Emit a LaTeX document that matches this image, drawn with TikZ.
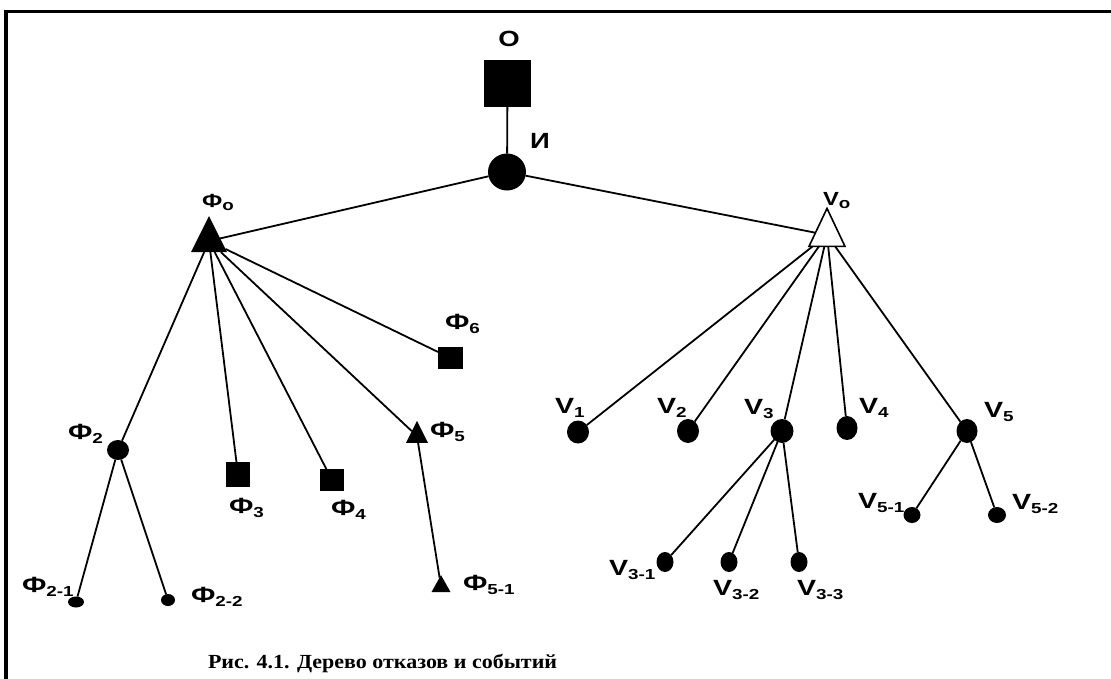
\documentclass[tikz,border=0pt]{standalone}
\usepackage{fontspec}
\setmainfont{Liberation Sans}
\newfontfamily\capfont{Liberation Serif}
\usetikzlibrary{shapes.geometric}
\newcommand{\lb}[2]{\scalebox{1.3}[1]{\bfseries\fontsize{22}{22}\selectfont #1\raisebox{-4pt}{\fontsize{14.5}{14.5}\selectfont #2}}}
\newcommand{\lbs}[2]{\scalebox{1.25}[1]{\bfseries\fontsize{19}{19}\selectfont #1\raisebox{-3pt}{\fontsize{15}{15}\selectfont #2}}}
\tikzset{
  x=1pt, y=-1pt,
  edge/.style={line width=1.8pt},
  lab/.style={anchor=base west, inner sep=0pt, outer sep=0pt},
  dot/.style={ellipse, fill=black, draw=none, inner sep=0pt, outer sep=0pt},
  sq/.style={rectangle, fill=black, draw=none, inner sep=0pt, outer sep=0pt},
  tri/.style={isosceles triangle, shape border rotate=90, isosceles triangle stretches=true, fill=black, inner sep=0pt, outer sep=0pt},
}
\begin{document}
\begin{tikzpicture}
\useasboundingbox (0,0) rectangle (1111,678);
\draw[line width=3.4pt, line join=miter] (6,680) -- (6,11.7) -- (1115,11.7);
% top
\node[sq, minimum width=47pt, minimum height=47pt] (O) at (507.5,83.5) {};
\node[inner sep=0pt, font=\bfseries\fontsize{22}{22}\selectfont] (lO) at (509,39) {\scalebox{1.25}[1]{О}};
\node[dot, minimum width=38pt, minimum height=37pt] (I) at (507,172) {};
\node[inner sep=0pt, font=\bfseries\fontsize{22}{22}\selectfont] (lI) at (540,141) {\scalebox{1.25}[1]{И}};
% second level
\node[tri, minimum width=36pt, minimum height=36pt] (F0) at (209,241) {};
\node[tri, fill=white, draw=black, line width=1.6pt, minimum width=36pt, minimum height=38pt] (V0) at (827,235) {};
\node[lab] (lF0) at (202,207) {\lbs{Ф}{o}};
\node[lab] (lV0) at (823,205) {\lbs{V}{o}};
% Ф children
\node[dot, minimum width=22pt, minimum height=20pt] (F2) at (118,450) {};
\node[sq, minimum width=24pt, minimum height=25pt] (F3) at (238,474.5) {};
\node[sq, minimum width=24pt, minimum height=22pt] (F4) at (332,480) {};
\node[tri, minimum width=22pt, minimum height=22pt] (F5) at (417,436) {};
\node[sq, minimum width=25pt, minimum height=22pt] (F6) at (450.5,358) {};
\node[tri, minimum width=19pt, minimum height=17pt] (F51) at (441,586.5) {};
\node[dot, minimum width=16pt, minimum height=11pt] (F21) at (76,602) {};
\node[dot, minimum width=14pt, minimum height=12pt] (F22) at (168,600) {};
% V children
\node[dot, minimum width=22pt, minimum height=23pt] (V1) at (578,432) {};
\node[dot, minimum width=22pt, minimum height=24pt] (V2) at (688,431) {};
\node[dot, minimum width=23pt, minimum height=24pt] (V3) at (782,431) {};
\node[dot, minimum width=21pt, minimum height=24pt] (V4) at (847,428) {};
\node[dot, minimum width=21pt, minimum height=24pt] (V5) at (967,431) {};
\node[dot, minimum width=17pt, minimum height=20pt] (V31) at (665,562) {};
\node[dot, minimum width=17pt, minimum height=20pt] (V32) at (729,562) {};
\node[dot, minimum width=17pt, minimum height=20pt] (V33) at (799,562) {};
\node[dot, minimum width=17pt, minimum height=16pt] (V51) at (912,515) {};
\node[dot, minimum width=18pt, minimum height=16pt] (V52) at (997,515) {};
% labels
\node[lab] (lF2) at (68,439) {\lb{Ф}{2}};
\node[lab] (lF3) at (229,513) {\lb{Ф}{3}};
\node[lab] (lF4) at (331,515) {\lb{Ф}{4}};
\node[lab] (lF5) at (430,437) {\lb{Ф}{5}};
\node[lab] (lF6) at (445,329) {\lb{Ф}{6}};
\node[lab] (lF51) at (463,590) {\lb{Ф}{5-1}};
\node[lab] (lF21) at (22,592) {\lb{Ф}{2-1}};
\node[lab] (lF22) at (191,602) {\lb{Ф}{2-2}};
\node[lab] (lV1) at (555,413) {\lb{V}{1}};
\node[lab] (lV2) at (657,413) {\lb{V}{2}};
\node[lab] (lV3) at (744,414) {\lb{V}{3}};
\node[lab] (lV4) at (859,413) {\lb{V}{4}};
\node[lab] (lV5) at (984,417) {\lb{V}{5}};
\node[lab] (lV31) at (609,575) {\lb{V}{3-1}};
\node[lab] (lV32) at (713,595) {\lb{V}{3-2}};
\node[lab] (lV33) at (797,595) {\lb{V}{3-3}};
\node[lab] (lV51) at (858,508) {\lb{V}{5-1}};
\node[lab] (lV52) at (1012,509) {\lb{V}{5-2}};
% caption
\node[lab] (cap) at (208,668) {\scalebox{1.1}[1]{\capfont\bfseries\fontsize{20}{20}\selectfont Рис. 4.1. Дерево отказов и событий}};
% edges
\draw[edge] (O) -- (I);
\draw[edge] (I) -- (F0);
\draw[edge] (I) -- (V0);
\foreach \c in {F2,F3,F4,F5,F6} \draw[edge] (F0) -- (\c);
\foreach \c in {V1,V2,V3,V4,V5} \draw[edge] (V0) -- (\c);
\draw[edge] (F2) -- (F21);
\draw[edge] (F2) -- (F22);
\draw[edge] (F5) -- (F51);
\foreach \c in {V31,V32,V33} \draw[edge] (V3) -- (\c);
\draw[edge] (V5) -- (V51);
\draw[edge] (V5) -- (V52);
\end{tikzpicture}
\end{document}
